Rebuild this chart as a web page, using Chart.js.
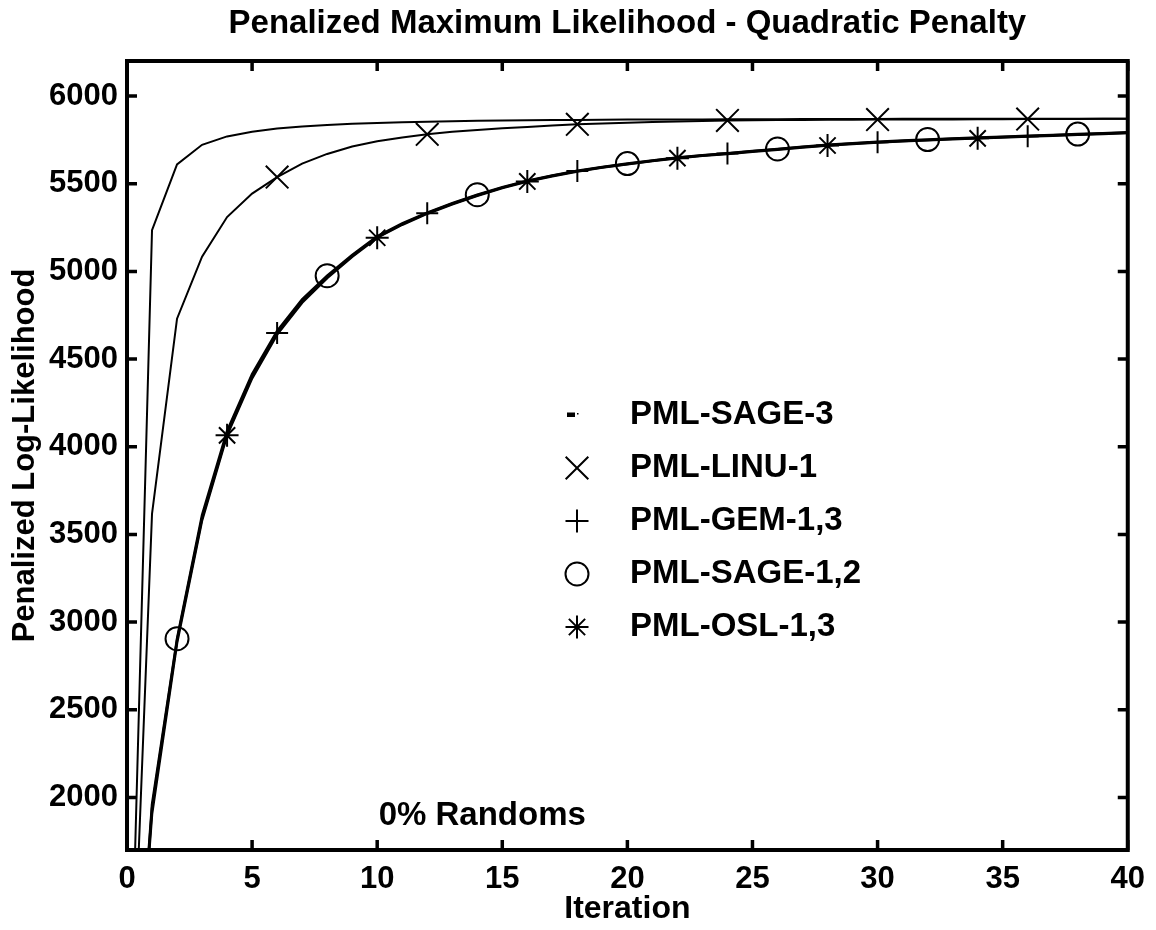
<!DOCTYPE html>
<html>
<head>
<meta charset="utf-8">
<script src="https://cdn.jsdelivr.net/npm/chart.js@4.4.0/dist/chart.umd.min.js"></script>
<style>
html,body{margin:0;padding:0;background:#fff;}
#wrap{width:1156px;height:930px;position:relative;}
canvas{display:block;}
</style>
</head>
<body>
<div id="wrap"><canvas id="c" width="1156" height="930"></canvas></div>
<script>
// ---------- data ----------
const iterations = [0,1,2,3,4,5,6,7,8,9,10,11,12,13,14,15,16,17,18,19,20,21,22,23,24,25,26,27,28,29,30,31,32,33,34,35,36,37,38,39,40];

const sage3 = [0,5235,5610,5722,5770,5797,5815,5826,5835,5842,5847,5851,5854,5857,5859,5861,5862,5863,5864,5865,5866,5866,5867,5867,5868,5868,5868,5869,5869,5869,5869,5870,5870,5870,5870,5870,5871,5871,5871,5871,5871];
const linu1 = [0,3617,4730,5084,5310,5444,5538,5615,5670,5712,5742,5764,5782,5796,5807,5816,5824,5832,5839,5844,5848,5852,5855,5858,5861,5862,5863,5864,5865,5865,5866,5866,5867,5867,5868,5868,5869,5869,5869,5870,5870];
const gem13 = [0,1938,2896,3593,4074,4400,4649,4830,4968,5088,5196,5270,5332,5386,5434,5478,5515,5545,5572,5594,5613,5631,5648,5661,5672,5685,5696,5709,5720,5729,5737,5744,5750,5756,5761,5766,5771,5776,5781,5786,5791];
const sage12 = [0,1960,2905,3610,4090,4415,4660,4840,4975,5094,5200,5274,5335,5389,5437,5480,5517,5547,5574,5596,5615,5633,5650,5663,5674,5687,5698,5711,5722,5731,5739,5746,5752,5758,5763,5768,5773,5778,5783,5788,5793];
const osl13 = [0,1905,2880,3580,4065,4390,4640,4822,4962,5083,5192,5266,5329,5383,5431,5476,5513,5543,5570,5592,5611,5629,5646,5659,5670,5683,5694,5707,5718,5727,5735,5742,5748,5754,5759,5764,5769,5774,5779,5784,5789];

// iterations at which markers are shown
const linuMarks  = [6,12,18,24,30,36];
const gemMarks   = [6,12,18,24,30,36];
const sageMarks  = [2,8,14,20,26,32,38];
const oslMarks   = [4,10,16,22,28,34];

const seriesNames = ["PML-SAGE-3","PML-LINU-1","PML-GEM-1,3","PML-SAGE-1,2","PML-OSL-1,3"];

const xTicks = [0,5,10,15,20,25,30,35,40];
const yTicks = [2000,2500,3000,3500,4000,4500,5000,5500,6000];

const titleText = "Penalized Maximum Likelihood - Quadratic Penalty";
const xTitle = "Iteration";
const yTitle = "Penalized Log-Likelihood";
const noteText = "0% Randoms";
const notePos = {x: 14.2, y: 1893};

// ---------- chart ----------
const FONT = "'Liberation Sans', Arial, Helvetica, sans-serif";
const pts = arr => iterations.map((it, i) => ({x: it, y: arr[i]}));
const markR = (marks, r) => ctx => (ctx.dataIndex !== undefined && marks.includes(iterations[ctx.dataIndex])) ? r : 0;

function mkSet(label, arr, style, marks, r, lw) {
  return {
    label: label,
    data: pts(arr),
    borderColor: '#000',
    borderWidth: lw,
    tension: 0,
    pointStyle: style,
    pointRadius: marks ? markR(marks, r) : 0,
    pointHoverRadius: 0,
    pointBorderColor: '#000',
    pointBackgroundColor: 'rgba(0,0,0,0)',
    pointBorderWidth: 2,
    fill: false
  };
}

const datasets = [
  mkSet(seriesNames[0], sage3, 'dash', null, 0, 2),
  mkSet(seriesNames[1], linu1, 'crossRot', linuMarks, 16, 2),
  mkSet(seriesNames[2], gem13, 'cross', gemMarks, 11, 2.5),
  mkSet(seriesNames[3], sage12, 'circle', sageMarks, 11.5, 2.5),
  mkSet(seriesNames[4], osl13, 'star', oslMarks, 11.5, 2.5)
];

function drawMarker(ctx, style, r, x, y) {
  ctx.save();
  ctx.strokeStyle = '#000';
  ctx.fillStyle = '#000';
  ctx.lineWidth = 2;
  ctx.beginPath();
  if (style === 'dash') {
    ctx.fillRect(x - 10, y - 2.5, 8, 4.5);
    ctx.fillRect(x, y - 2, 1.5, 1.5);
  } else if (style === 'crossRot') {
    const o = r * Math.SQRT1_2;
    ctx.moveTo(x - o, y - o); ctx.lineTo(x + o, y + o);
    ctx.moveTo(x + o, y - o); ctx.lineTo(x - o, y + o);
    ctx.stroke();
  } else if (style === 'cross') {
    ctx.moveTo(x - r, y); ctx.lineTo(x + r, y);
    ctx.moveTo(x, y - r); ctx.lineTo(x, y + r);
    ctx.stroke();
  } else if (style === 'circle') {
    ctx.arc(x, y, r, 0, Math.PI * 2);
    ctx.stroke();
  } else if (style === 'star') {
    const o = r * Math.SQRT1_2;
    ctx.moveTo(x - r, y); ctx.lineTo(x + r, y);
    ctx.moveTo(x, y - r); ctx.lineTo(x, y + r);
    ctx.moveTo(x - o, y - o); ctx.lineTo(x + o, y + o);
    ctx.moveTo(x + o, y - o); ctx.lineTo(x - o, y + o);
    ctx.stroke();
  }
  ctx.restore();
}

const framePlugin = {
  id: 'frameTicks',
  afterDatasetsDraw(chart) {
    const {ctx, chartArea: a, scales} = chart;
    ctx.save();
    ctx.strokeStyle = '#000';
    ctx.lineWidth = 4;
    ctx.lineJoin = 'miter';
    ctx.strokeRect(a.left, a.top, a.right - a.left, a.bottom - a.top);
    ctx.lineWidth = 3.5;
    ctx.beginPath();
    const tl = 10;
    xTicks.forEach(v => {
      const px = scales.x.getPixelForValue(v);
      ctx.moveTo(px, a.bottom); ctx.lineTo(px, a.bottom - tl);
      ctx.moveTo(px, a.top); ctx.lineTo(px, a.top + tl);
    });
    yTicks.forEach(v => {
      const py = scales.y.getPixelForValue(v);
      ctx.moveTo(a.left, py); ctx.lineTo(a.left + tl, py);
      ctx.moveTo(a.right, py); ctx.lineTo(a.right - tl, py);
    });
    ctx.stroke();
    ctx.restore();
  },
  afterDraw(chart) {
    const {ctx, scales, chartArea: a} = chart;
    ctx.save();
    ctx.fillStyle = '#000';
    // title centred over the plot area
    ctx.font = "bold 33px " + FONT;
    ctx.textAlign = 'center';
    ctx.textBaseline = 'alphabetic';
    ctx.fillText(titleText, (a.left + a.right) / 2, 33);
    // legend
    const legX = 577, textX = 630, rowY0 = 415, rowDy = 53;
    ctx.textBaseline = 'middle';
    ctx.textAlign = 'left';
    chart.data.datasets.forEach((ds, i) => {
      const y = rowY0 + i * rowDy;
      const r = ds.pointStyle === 'crossRot' ? 16 : 11.5;
      drawMarker(ctx, ds.pointStyle, r, legX, y);
      ctx.fillText(ds.label, textX, y);
    });
    // note
    ctx.textAlign = 'center';
    ctx.fillText(noteText, scales.x.getPixelForValue(notePos.x), scales.y.getPixelForValue(notePos.y));
    ctx.restore();
  }
};

new Chart(document.getElementById('c'), {
  type: 'line',
  data: {datasets: datasets},
  plugins: [framePlugin],
  options: {
    responsive: false,
    devicePixelRatio: 1,
    animation: false,
    events: [],
    layout: {padding: {left: 0, right: 28, top: 61, bottom: 0}},
    plugins: {
      legend: {display: false},
      tooltip: {enabled: false},
      title: {display: false}
    },
    scales: {
      x: {
        type: 'linear',
        min: 0, max: 40,
        afterBuildTicks: s => { s.ticks = xTicks.map(v => ({value: v})); },
        afterFit: s => { s.height = 80; },
        grid: {display: false, drawTicks: false},
        border: {display: false},
        ticks: {color: '#000', padding: 11, font: {family: FONT, size: 31, weight: 'bold'}, autoSkip: false, maxRotation: 0,
                callback: v => String(v)},
        title: {display: true, text: xTitle, color: '#000', padding: {top: 0, bottom: 2}, font: {family: FONT, size: 32, weight: 'bold'}}
      },
      y: {
        type: 'linear',
        min: 1700, max: 6200,
        afterBuildTicks: s => { s.ticks = yTicks.map(v => ({value: v})); },
        afterFit: s => { s.width = 127; },
        grid: {display: false, drawTicks: false},
        border: {display: false},
        ticks: {color: '#000', padding: 9, font: {family: FONT, size: 31, weight: 'bold'}, autoSkip: false,
                callback: v => String(v)},
        title: {display: true, text: yTitle, color: '#000', padding: {top: 7, bottom: 0}, font: {family: FONT, size: 31, weight: 'bold'}}
      }
    }
  }
});
</script>
</body>
</html>
